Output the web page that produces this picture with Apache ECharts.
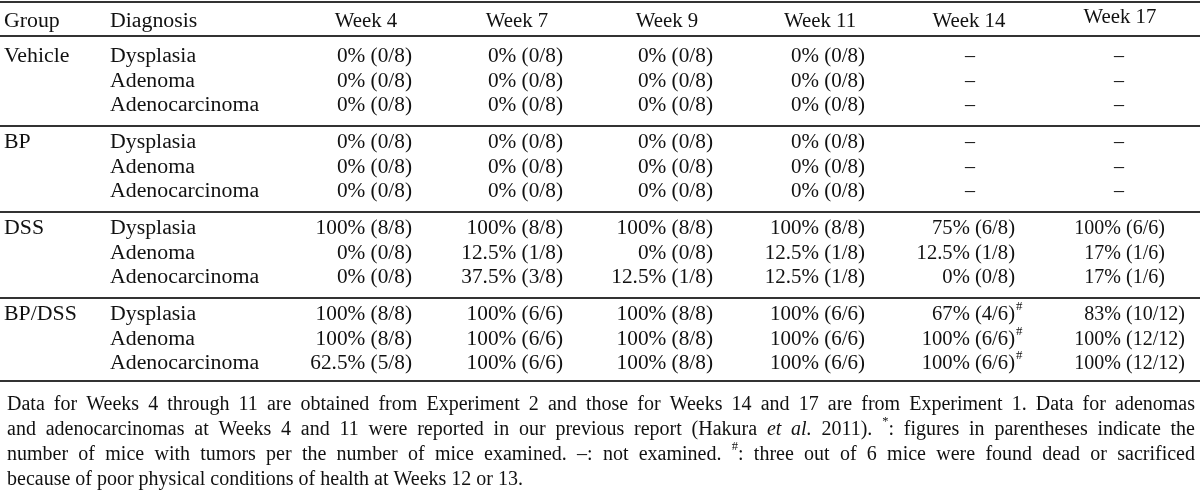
<!DOCTYPE html>
<html><head><meta charset="utf-8">
<script src="https://cdn.jsdelivr.net/npm/echarts@6/dist/echarts.min.js"></script>
<style>html,body{margin:0;padding:0;background:#fff}#c{width:1200px;height:493px}</style>
</head><body><div id="c"></div>
<script>
// ---------------- DATA ----------------
const columnHeaders = ['Group', 'Diagnosis', 'Week 4', 'Week 7', 'Week 9', 'Week 11', 'Week 14', 'Week 17'];
const groups = ['Vehicle', 'BP', 'DSS', 'BP/DSS'];
const diagnoses = ['Dysplasia', 'Adenoma', 'Adenocarcinoma'];
const vehicleValues = [
  ['0% (0/8)', '0% (0/8)', '0% (0/8)', '0% (0/8)', '–', '–'],
  ['0% (0/8)', '0% (0/8)', '0% (0/8)', '0% (0/8)', '–', '–'],
  ['0% (0/8)', '0% (0/8)', '0% (0/8)', '0% (0/8)', '–', '–']
];
const bpValues = [
  ['0% (0/8)', '0% (0/8)', '0% (0/8)', '0% (0/8)', '–', '–'],
  ['0% (0/8)', '0% (0/8)', '0% (0/8)', '0% (0/8)', '–', '–'],
  ['0% (0/8)', '0% (0/8)', '0% (0/8)', '0% (0/8)', '–', '–']
];
const dssValues = [
  ['100% (8/8)', '100% (8/8)', '100% (8/8)', '100% (8/8)', '75% (6/8)', '100% (6/6)'],
  ['0% (0/8)', '12.5% (1/8)', '0% (0/8)', '12.5% (1/8)', '12.5% (1/8)', '17% (1/6)'],
  ['0% (0/8)', '37.5% (3/8)', '12.5% (1/8)', '12.5% (1/8)', '0% (0/8)', '17% (1/6)']
];
const bpDssValues = [
  ['100% (8/8)', '100% (6/6)', '100% (8/8)', '100% (6/6)', '67% (4/6)#', '83% (10/12)'],
  ['100% (8/8)', '100% (6/6)', '100% (8/8)', '100% (6/6)', '100% (6/6)#', '100% (12/12)'],
  ['62.5% (5/8)', '100% (6/6)', '100% (8/8)', '100% (6/6)', '100% (6/6)#', '100% (12/12)']
];
const footnoteLines = [
  [{t: 'Data for Weeks 4 through 11 are obtained from Experiment 2 and those for Weeks 14 and 17 are from Experiment 1. Data for adenomas'}],
  [{t: 'and adenocarcinomas at Weeks 4 and 11 were reported in our previous report (Hakura '}, {t: 'et al.', it: true}, {t: ' 2011). '}, {t: '*', sup: true}, {t: ': figures in parentheses indicate the'}],
  [{t: 'number of mice with tumors per the number of mice examined. –:  not examined. '}, {t: '#', sup: true}, {t: ': three out of 6 mice were found dead or sacrificed'}],
  [{t: 'because of poor physical conditions of health at Weeks 12 or 13.'}]
];
const footnoteJustified = [true, true, true, false];

// ---------------- LAYOUT / STYLE ----------------
const FONT = '"Liberation Serif", "Times New Roman", serif';
const FS = 20, SUP_FS = 12.5, INK = '#111', RULE = '#333';
const LABEL_FS = 20.5, LABEL_SX = 1.065, HEADER_SX = 1.04;
const PX = 24;                         // px per y-axis unit (grid height 480 / 20)
const TEXT_DY = 2;
const rowY = (g, r) => (35 + g * 86 + r * 24.5) / PX;   // header at 0 (=20px)
// per column: anchor shift from category centre (px); value anchor = right edge ('right') or '(' position ('paren')
const colShift = [-71, -115, 37, 38, 38, 40, 40, 1];
const valueMode = [null, null, 'right', 'right', 'right', 'right', 'right', 'paren'];
const valueSX = [1, 1, 1.065, 1.065, 1.065, 1.05, 1.03, 1];
const headerShiftX = [0, 0, -46, -46, -46, -45, -46, -6];
const headerShiftY = [0, 0, 0, 0, 0, 0, 0, -4];
const dashShiftX = [0, 0, 0, 0, 0, 0, -45, -7];

const measureCtx = document.createElement('canvas').getContext('2d');
function textW(t, size, italic) {
  measureCtx.font = (italic ? 'italic ' : '') + size + 'px ' + FONT;
  return measureCtx.measureText(t).width;
}

// build cell list
const groupValues = [vehicleValues, bpValues, dssValues, bpDssValues];
const cells = [];
columnHeaders.forEach((h, i) => cells.push({col: i, y: 0, text: h, kind: i < 2 ? 'left' : 'header'}));
groups.forEach((g, gi) => {
  cells.push({col: 0, y: rowY(gi, 0), text: g, kind: 'left'});
  diagnoses.forEach((d, ri) => {
    cells.push({col: 1, y: rowY(gi, ri), text: d, kind: 'left'});
    groupValues[gi][ri].forEach((v, wi) => cells.push({col: wi + 2, y: rowY(gi, ri), text: v, kind: 'value'}));
  });
});
const rules = [
  {y: -18 / PX}, {y: 16 / PX},
  {y: rowY(0, 2) + 22 / PX}, {y: rowY(1, 2) + 22 / PX}, {y: rowY(2, 2) + 22 / PX},
  {y: rowY(3, 2) + 19 / PX}
];

function txt(x, y, text, align, size, sx, italic) {
  return {type: 'text', x: x, y: y, scaleX: sx || 1, style: {text: text, fontSize: size || FS, fontFamily: FONT,
    fontStyle: italic ? 'italic' : 'normal', fill: INK, align: align, verticalAlign: 'middle'}};
}

function renderCell(params, api) {
  const c = cells[params.dataIndex];
  const p = api.coord([api.value(0), api.value(1)]);
  const x = p[0] + colShift[c.col], y = p[1] + TEXT_DY;
  if (c.kind === 'left') return txt(x, y, c.text, 'left', LABEL_FS, LABEL_SX);
  if (c.kind === 'header') return txt(x + headerShiftX[c.col], y + headerShiftY[c.col], c.text, 'center', FS, HEADER_SX);
  if (c.text === '–') return txt(x + dashShiftX[c.col], y, c.text, 'center');
  let s = c.text, sup = '';
  if (s.endsWith('#')) { sup = '#'; s = s.slice(0, -1); }
  const k = s.indexOf(' ');
  const pct = s.slice(0, k), par = s.slice(k + 1);
  const wPar = textW(par, FS), wSp = textW(' ', FS);
  const px0 = valueMode[c.col] === 'right' ? -wPar : 0;   // local x of '('
  const ch = [txt(px0 - wSp, 0, pct, 'right'), txt(px0, 0, par, 'left')];
  if (sup) ch.push(txt(px0 + wPar + 1, -8, sup, 'left', SUP_FS));
  return {type: 'group', x: x, y: y, scaleX: valueSX[c.col], children: ch};
}

function renderRule(params, api) {
  const y = Math.round(api.coord([0, api.value(1)])[1]);
  const cs = params.coordSys;
  return {type: 'line', shape: {x1: cs.x, y1: y, x2: cs.x + cs.width, y2: y},
    style: {stroke: RULE, lineWidth: 2}};
}

// footnote graphic (justified lines)
function buildFootnote() {
  const left = 7, right = 1195, y0 = 405, lh = 25;
  const els = [];
  footnoteLines.forEach((segs, li) => {
    const words = []; let cur = [];
    segs.forEach(sg => {
      const parts = sg.t.split(' ');
      parts.forEach((part, j) => {
        if (j > 0 && cur.length) { words.push(cur); cur = []; }
        if (part) cur.push({t: part, it: sg.it, sup: sg.sup});
      });
    });
    if (cur.length) words.push(cur);
    const ww = words.map(w => w.reduce((a, s) => a + textW(s.t, s.sup ? SUP_FS : FS, s.it), 0));
    const total = ww.reduce((a, b) => a + b, 0);
    const gap = footnoteJustified[li] ? (right - left - total) / (words.length - 1) : textW(' ', FS);
    let x = left; const y = y0 + li * lh;
    words.forEach((w, wi) => {
      let xx = x;
      w.forEach(s => {
        const size = s.sup ? SUP_FS : FS;
        els.push({type: 'text', x: xx, y: s.sup ? y - 8 : y, silent: true,
          style: {text: s.t, fontSize: size, fontFamily: FONT, fontStyle: s.it ? 'italic' : 'normal',
            fill: INK, align: 'left', verticalAlign: 'middle'}});
        xx += textW(s.t, size, s.it);
      });
      x += ww[wi] + gap;
    });
  });
  return els;
}

const chart = echarts.init(document.getElementById('c'), null, {renderer: 'canvas'});
chart.setOption({
  backgroundColor: '#fff',
  animation: false,
  grid: {left: 0, top: 0, width: 1200, height: 480},
  xAxis: {type: 'category', data: columnHeaders, show: false},
  yAxis: {type: 'value', inverse: true, min: -20 / PX, max: 460 / PX, show: false},
  graphic: buildFootnote(),
  series: [
    {type: 'custom', name: 'rules', clip: false, silent: true,
      data: rules.map(r => [0, r.y]), renderItem: renderRule},
    {type: 'custom', name: 'cells', clip: false, silent: true,
      data: cells.map((c, i) => [c.col, c.y, i]), renderItem: renderCell}
  ]
});
</script></body></html>
